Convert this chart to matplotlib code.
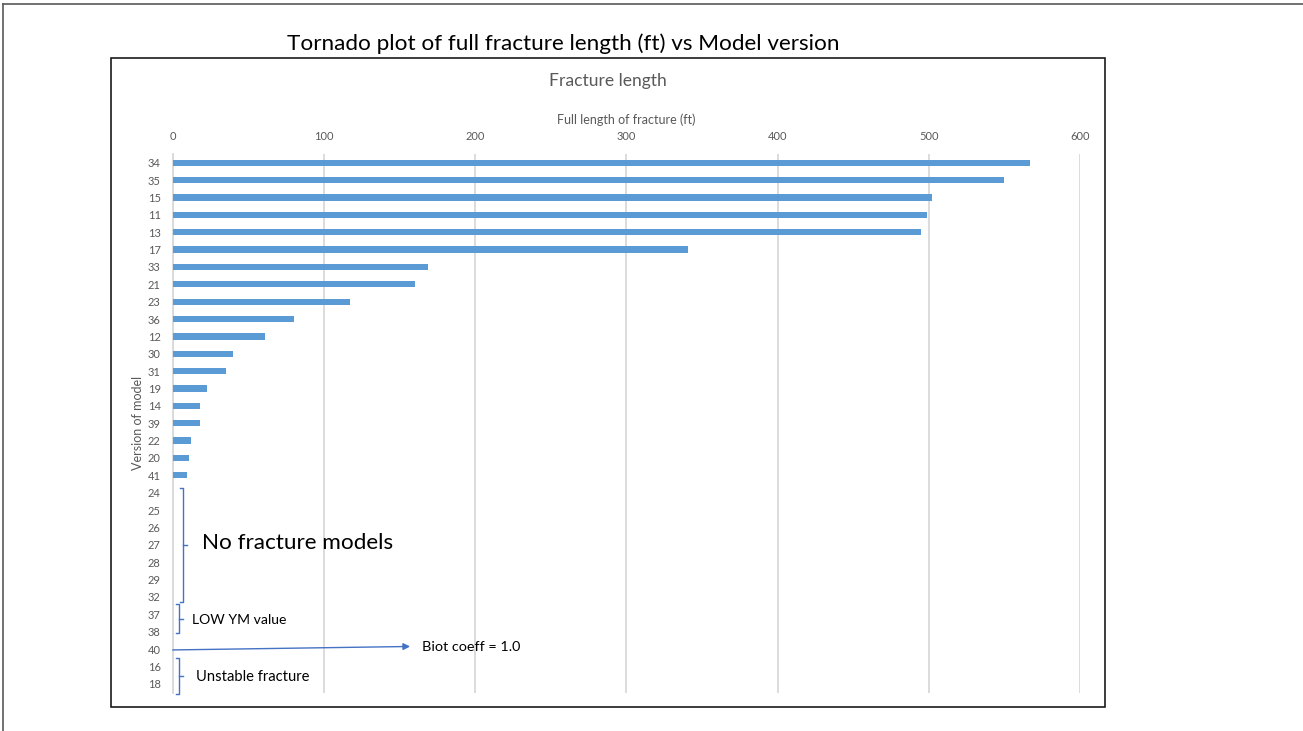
import matplotlib.pyplot as plt
from matplotlib.lines import Line2D
from matplotlib.patches import Rectangle

# Model versions, top to bottom, and their full fracture length (ft)
versions = ["34", "35", "15", "11", "13", "17", "33", "21", "23", "36", "12",
            "30", "31", "19", "14", "39", "22", "20", "41",
            "24", "25", "26", "27", "28", "29", "32", "37", "38", "40", "16", "18"]
frac_length = [567, 550, 502, 499, 495, 341, 169, 160, 117, 80, 61,
               40, 35, 22.7, 17.8, 17.8, 11.9, 10.8, 9.7,
               0, 0, 0, 0, 0, 0, 0, 0, 0, 0, 0, 0]
x_ticks = [0, 100, 200, 300, 400, 500, 600]

plt.rcParams['font.family'] = ['Lato', 'DejaVu Sans']

W, H = 1303, 731
fig = plt.figure(figsize=(W / 100, H / 100), dpi=100)

def fx(px):
    return px / W

def fy(py):
    return 1 - py / H

# slide edge (top and left only) and the chart frame
fig.add_artist(Line2D([fx(3), 1], [fy(4), fy(4)], color="#595959", lw=1.2))
fig.add_artist(Line2D([fx(3), fx(3)], [fy(4), 0], color="#595959", lw=1.2))
fig.add_artist(Rectangle((fx(110.5), fy(707)), fx(1105) - fx(110.5), fy(57.5) - fy(707),
                         fill=False, edgecolor="#1a1a1a", lw=1.2))

fig.text(fx(563), fy(44), "Tornado plot of full fracture length (ft) vs Model version",
         ha="center", va="center", fontsize=16.2, color="black")
fig.text(fx(607.5), fy(81), "Fracture length", ha="center", va="center",
         fontsize=12.6, color="#595959")

ax = fig.add_axes([fx(172.7), fy(692.5), fx(1080) - fx(172.7), fy(154) - fy(692.5)])
rows = list(range(len(versions)))
ax.barh(rows, frac_length, height=0.36, color="#5b9bd5", zorder=3)

ax.set_xlim(0, 600)
ax.set_ylim(len(versions) - 0.5, -0.5)
ax.set_xticks(x_ticks)
ax.set_yticks(rows)
ax.set_yticklabels(versions)
ax.xaxis.tick_top()
ax.xaxis.set_label_position("top")
ax.tick_params(axis="both", length=0, labelsize=8, labelcolor="#595959")
ax.tick_params(axis="x", pad=9)
ax.tick_params(axis="y", pad=8.6)
ax.set_xlabel("Full length of fracture (ft)", fontsize=9, color="#595959", labelpad=5)
ax.grid(axis="x", color="#d9d9d9", lw=1.3, zorder=0)
for side in ["top", "right", "bottom"]:
    ax.spines[side].set_visible(False)
ax.spines["left"].set_color("#d9d9d9")
ax.spines["left"].set_linewidth(1.3)

fig.text(fx(138), fy(423), "Version of model", rotation=90, ha="center", va="center",
         fontsize=9, color="#595959")

# brackets grouping the versions that gave no length
def bracket(x, y0, y1, hook=2.0, tick=2.5):
    kw = dict(color="#4472c4", lw=1.0, clip_on=False, zorder=4)
    ax.plot([x - hook, x, x, x - hook], [y0, y0, y1, y1], **kw)
    ym = (y0 + y1) / 2
    ax.plot([x, x + tick], [ym, ym], **kw)

bracket(7.0, 18.7, 25.3)
bracket(4.2, 25.4, 27.1)
bracket(4.0, 28.5, 30.6)

ax.text(19.2, 21.9, "No fracture models", fontsize=16.2, va="center", ha="left", color="black")
ax.text(13.0, 26.3, "LOW YM value", fontsize=10.1, va="center", ha="left", color="black")
ax.text(15.4, 29.6, "Unstable fracture", fontsize=10.6, va="center", ha="left", color="black")

ax.annotate("", xy=(157, 27.85), xytext=(0, 28.05),
            arrowprops=dict(arrowstyle="-|>", color="#4472c4", lw=1.0,
                            mutation_scale=10, shrinkA=0, shrinkB=0),
            annotation_clip=False)
ax.text(164.6, 27.9, "Biot coeff = 1.0", fontsize=10.4, va="center", ha="left", color="black")

fig.savefig("out.png", dpi=100)
